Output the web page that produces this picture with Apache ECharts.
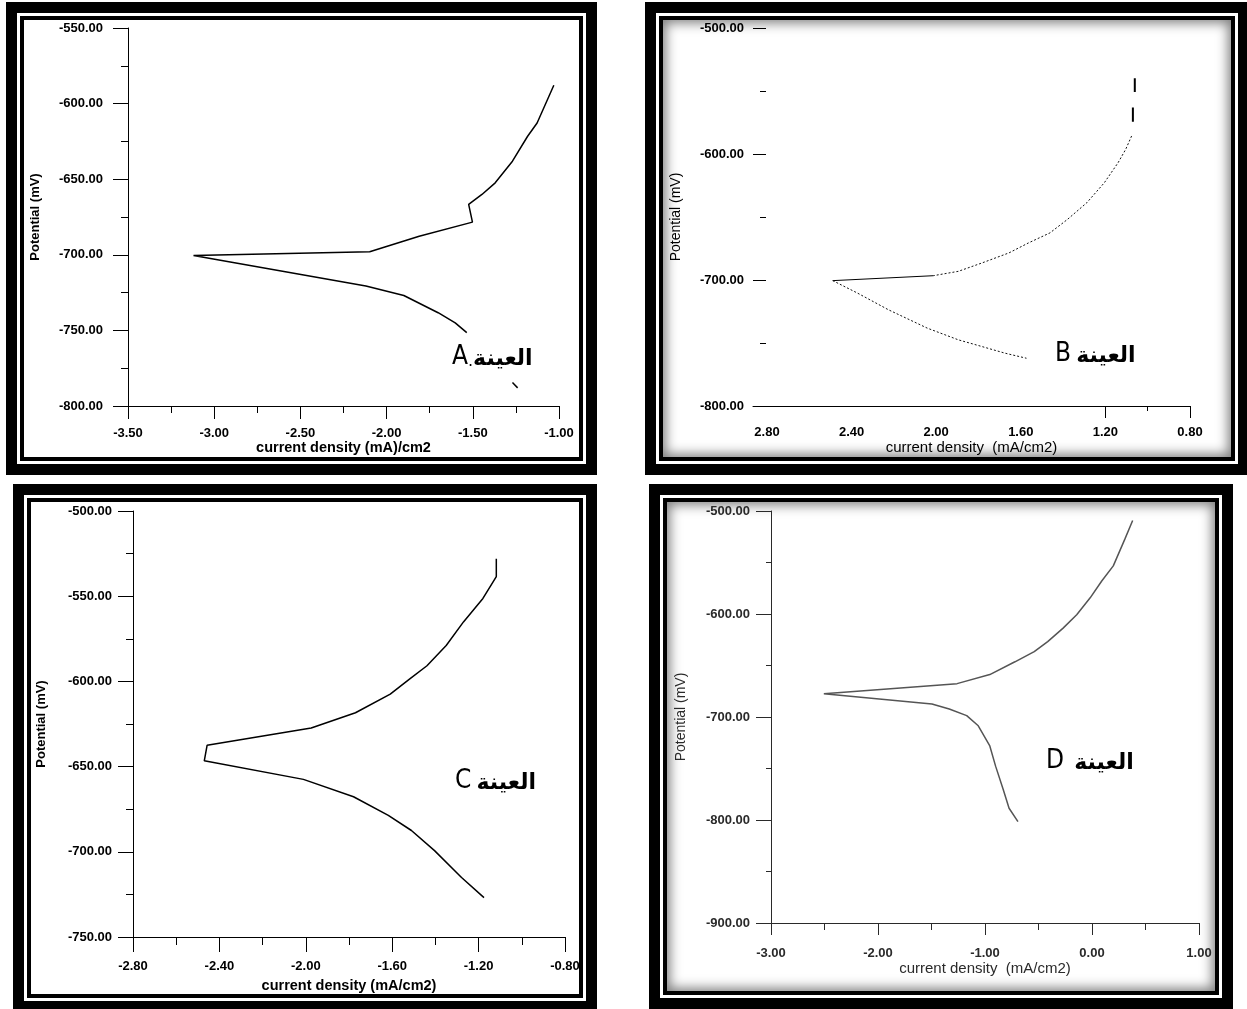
<!DOCTYPE html>
<html><head><meta charset="utf-8">
<script src="https://cdn.jsdelivr.net/npm/echarts@6/dist/echarts.min.js"></script>
<style>
html,body{margin:0;padding:0;background:#fff;}
#wrap{position:relative;width:1247px;height:1009px;overflow:hidden;background:#fff;}
.frame{position:absolute;box-sizing:border-box;border:11px solid #000;padding:3px;background:#fff;}
.frame .inner{width:100%;height:100%;box-sizing:border-box;border:4px solid #000;background:#fff;}
.vig .inner{box-shadow: inset 0 0 12px 3px rgba(0,0,0,0.5);}
#chart{position:absolute;left:0;top:0;width:1247px;height:1009px;}
</style></head><body>
<div id="wrap">
<div class="frame" style="left:6px;top:2px;width:591px;height:473px"><div class="inner"></div></div>
<div class="frame vig" style="left:645px;top:2px;width:604px;height:473px"><div class="inner"></div></div>
<div class="frame" style="left:13px;top:484px;width:584px;height:528px"><div class="inner"></div></div>
<div class="frame vig" style="left:649px;top:484px;width:584px;height:525px"><div class="inner"></div></div>
<div id="chart"></div>
</div>
<script>
// ---------- Data ----------
// Sample A
const aXTicks = [-3.5, -3.0, -2.5, -2.0, -1.5, -1.0];
const aYTicks = [-800, -750, -700, -650, -600, -550];
const aCurrent   = [-1.03, -1.127, -1.182, -1.27, -1.37, -1.447, -1.524, -1.502, -1.811, -2.098, -3.12, -2.12, -1.9, -1.701, -1.602, -1.535];
const aPotential = [-587.9, -612.8, -621.6, -638.1, -652.4, -660.1, -666.7, -678.4, -687.7, -698.0, -700.4, -720.7, -726.9, -738.3, -745.0, -751.5];
const aMarkCurrent   = [-1.27, -1.24];
const aMarkPotential = [-784.5, -788];

// Sample B
const bXLabels = [0.8, 1.2, 1.6, 2.0, 2.4, 2.8];
const bXMajorTicks = [0.8, 1.2];
const bXMinorTicks = [1.0];
const bYTicks = [-800, -700, -600, -500];
const bDashCurrent   = [1.061, 1.061, '-', 1.07, 1.07];
const bDashPotential = [-539.8, -550.7, '-', -563.1, -574.5];
const bAnodicCurrent   = [1.076, 1.104, 1.14, 1.205, 1.288, 1.38, 1.462, 1.564, 1.656, 1.784, 1.895, 2.014];
const bAnodicPotential = [-585.7, -596.3, -606.9, -622.8, -638.7, -652, -662.6, -670.6, -678.5, -686.5, -693.1, -696.6];
const bCorrCurrent   = [2.014, 2.489];
const bCorrPotential = [-696.6, -700.5];
const bCathodicCurrent   = [2.489, 2.373, 2.226, 2.042, 1.895, 1.784, 1.674, 1.573];
const bCathodicPotential = [-700.5, -710.3, -723.6, -738.2, -747.5, -752.8, -758.1, -762.1];

// Sample C
const cXTicks = [-2.8, -2.4, -2.0, -1.6, -1.2, -0.8];
const cYTicks = [-750, -700, -650, -600, -550, -500];
const cCurrent   = [-1.118, -1.118, -1.18, -1.27, -1.35, -1.439, -1.52, -1.609, -1.77, -1.975, -2.457, -2.47, -2.011, -1.779, -1.618, -1.511, -1.404, -1.279, -1.175];
const cPotential = [-528, -538.5, -551.3, -565.1, -578.9, -590.8, -598.7, -607.5, -618.4, -627.3, -637.5, -646.6, -657.5, -667.7, -678.6, -687.5, -699.3, -715.1, -726.9];

// Sample D
const dXTicks = [-3, -2, -1, 0, 1];
const dYTicks = [-900, -800, -700, -600, -500];
const dCurrent   = [0.38, 0.308, 0.199, 0.091, -0.017, -0.143, -0.27, -0.414, -0.54, -0.72, -0.955, -1.261, -2.506, -1.496, -1.334, -1.171, -1.063, -0.955, -0.901, -0.829, -0.775, -0.692];
const dPotential = [-509.2, -527.1, -553.3, -568, -584.3, -600.7, -613.7, -626.8, -636.6, -646.4, -658.8, -667.6, -677.5, -687.3, -692.2, -698.7, -708.5, -728.1, -747.7, -770.6, -788.6, -801.6];

const labelA = 'A', labelB = 'B', labelC = 'C', labelD = 'D';
const sampleWord = 'العينة';

// ---------- Helpers ----------
function pairs(xs, ys) { return xs.map((x, i) => [x, ys[i]]); }
function step(t) { return Math.round((t[1] - t[0]) * 1e6) / 1e6; }
const FONT = "'Liberation Sans', Arial, sans-serif";
const fmt2 = v => Number(v).toFixed(2);

function valAxis(o) {
  const color = o.color || '#000';
  return Object.assign({
    type: 'value', gridIndex: o.grid, min: o.ticks[0], max: o.ticks[o.ticks.length - 1],
    interval: step(o.ticks),
    splitLine: { show: false },
    axisLine: { show: true, onZero: false, lineStyle: { color: color, width: 1 } },
    axisTick: { show: true, length: o.tickLen, lineStyle: { color: color, width: 1 } },
    minorTick: { show: true, splitNumber: 2, length: o.minorLen, lineStyle: { color: color, width: 1 } },
    axisLabel: { fontFamily: FONT, fontWeight: 'bold', fontSize: 13, color: color, margin: o.margin, formatter: fmt2 },
    name: o.name, nameLocation: 'middle', nameGap: o.nameGap,
    nameTextStyle: { fontFamily: FONT, fontWeight: o.nameWeight || 'bold', fontSize: o.nameSize || 13, color: color }
  }, o.extra || {});
}

const chart = echarts.init(document.getElementById('chart'), null, { renderer: 'canvas' });

function mkLabel(x, y, letter, sep) {
  return {
    type: 'text', left: x, top: y, z: 100,
    style: {
      text: '{l|' + letter + '}{s|' + sep + '}{a|' + sampleWord + '}',
      rich: {
        l: { fontFamily: "'DejaVu Sans Condensed', 'DejaVu Sans', sans-serif", fontSize: 26, fill: '#000', verticalAlign: 'bottom' },
        s: { fontFamily: "'DejaVu Sans', sans-serif", fontSize: 16, fill: '#000', verticalAlign: 'bottom' },
        a: { fontFamily: "'DejaVu Sans', sans-serif", fontWeight: 'bold', fontSize: 22, fill: '#000', verticalAlign: 'bottom' }
      }
    }
  };
}

const option = {
  animation: false,
  grid: [
    { left: 128, top: 28, width: 431, height: 378 },
    { left: 753, top: 28, width: 437, height: 378 },
    { left: 133, top: 511, width: 432, height: 426 },
    { left: 771, top: 511, width: 428, height: 412 }
  ],
  xAxis: [
    valAxis({ grid: 0, ticks: aXTicks, tickLen: 13, minorLen: 7, margin: 21, name: 'current density (mA)/cm2', nameGap: 34, nameSize: 14.5 }),
    {
      type: 'value', gridIndex: 1, inverse: true, min: bXLabels[0], max: 2.866,
      splitLine: { show: false },
      axisLine: { show: true, onZero: false, lineStyle: { color: '#000', width: 1 } },
      axisTick: { show: true, length: 12, customValues: bXMajorTicks, lineStyle: { color: '#000' } },
      axisLabel: { customValues: bXLabels, fontFamily: FONT, fontWeight: 'bold', fontSize: 13, color: '#000', margin: 20, formatter: fmt2 },
      name: 'current density  (mA/cm2)', nameLocation: 'middle', nameGap: 33,
      nameTextStyle: { fontFamily: FONT, fontSize: 15, color: '#000' }
    },
    valAxis({ grid: 2, ticks: cXTicks, tickLen: 15, minorLen: 8, margin: 23, name: 'current density (mA/cm2)', nameGap: 41, nameSize: 14.5 }),
    valAxis({ grid: 3, ticks: dXTicks, tickLen: 12, minorLen: 7, margin: 24, name: 'current density  (mA/cm2)', nameGap: 38, nameWeight: 'normal', nameSize: 15, color: '#2a2a2a' }),
    {
      type: 'value', gridIndex: 1, inverse: true, min: bXLabels[0], max: 2.866, position: 'bottom',
      splitLine: { show: false }, axisLine: { show: false },
      axisTick: { show: true, length: 5, customValues: bXMinorTicks, lineStyle: { color: '#000' } },
      axisLabel: { show: false }
    }
  ],
  yAxis: [
    valAxis({ grid: 0, ticks: aYTicks, tickLen: 15, minorLen: 7, margin: 25, name: 'Potential (mV)', nameGap: 86 }),
    valAxis({ grid: 1, ticks: bYTicks, tickLen: 13, minorLen: 6, margin: 22, name: 'Potential (mV)', nameGap: 83, nameWeight: 'normal', nameSize: 14,
      extra: { offset: -13, axisLine: { show: false } } }),
    valAxis({ grid: 2, ticks: cYTicks, tickLen: 15, minorLen: 7, margin: 21, name: 'Potential (mV)', nameGap: 85 }),
    valAxis({ grid: 3, ticks: dYTicks, tickLen: 15, minorLen: 5, margin: 21, name: 'Potential (mV)', nameGap: 83, nameWeight: 'normal', nameSize: 14, color: '#2a2a2a' })
  ],
  series: [
    { type: 'line', xAxisIndex: 0, yAxisIndex: 0, data: pairs(aCurrent, aPotential), showSymbol: false, lineStyle: { color: '#000', width: 1.5 } },
    { type: 'line', xAxisIndex: 0, yAxisIndex: 0, data: pairs(aMarkCurrent, aMarkPotential), showSymbol: false, lineStyle: { color: '#000', width: 1.5 } },
    { type: 'line', xAxisIndex: 1, yAxisIndex: 1, data: pairs(bDashCurrent, bDashPotential), showSymbol: false, connectNulls: false, lineStyle: { color: '#000', width: 2 } },
    { type: 'line', xAxisIndex: 1, yAxisIndex: 1, data: pairs(bAnodicCurrent, bAnodicPotential), showSymbol: false, lineStyle: { color: '#111', width: 1, type: [2, 2] } },
    { type: 'line', xAxisIndex: 1, yAxisIndex: 1, data: pairs(bCorrCurrent, bCorrPotential), showSymbol: false, lineStyle: { color: '#000', width: 1 } },
    { type: 'line', xAxisIndex: 1, yAxisIndex: 1, data: pairs(bCathodicCurrent, bCathodicPotential), showSymbol: false, lineStyle: { color: '#111', width: 1, type: [2, 2] } },
    { type: 'line', xAxisIndex: 2, yAxisIndex: 2, data: pairs(cCurrent, cPotential), showSymbol: false, lineStyle: { color: '#000', width: 1.5 } },
    { type: 'line', xAxisIndex: 3, yAxisIndex: 3, data: pairs(dCurrent, dPotential), showSymbol: false, lineStyle: { color: '#555', width: 1.5 } }
  ],
  graphic: [
    mkLabel(452, 344, labelA, '.'),
    mkLabel(1055, 341, labelB, ' '),
    mkLabel(455, 768, labelC, ' '),
    mkLabel(1046, 748, labelD, '  ')
  ]
};

chart.setOption(option);
</script>
</body></html>
